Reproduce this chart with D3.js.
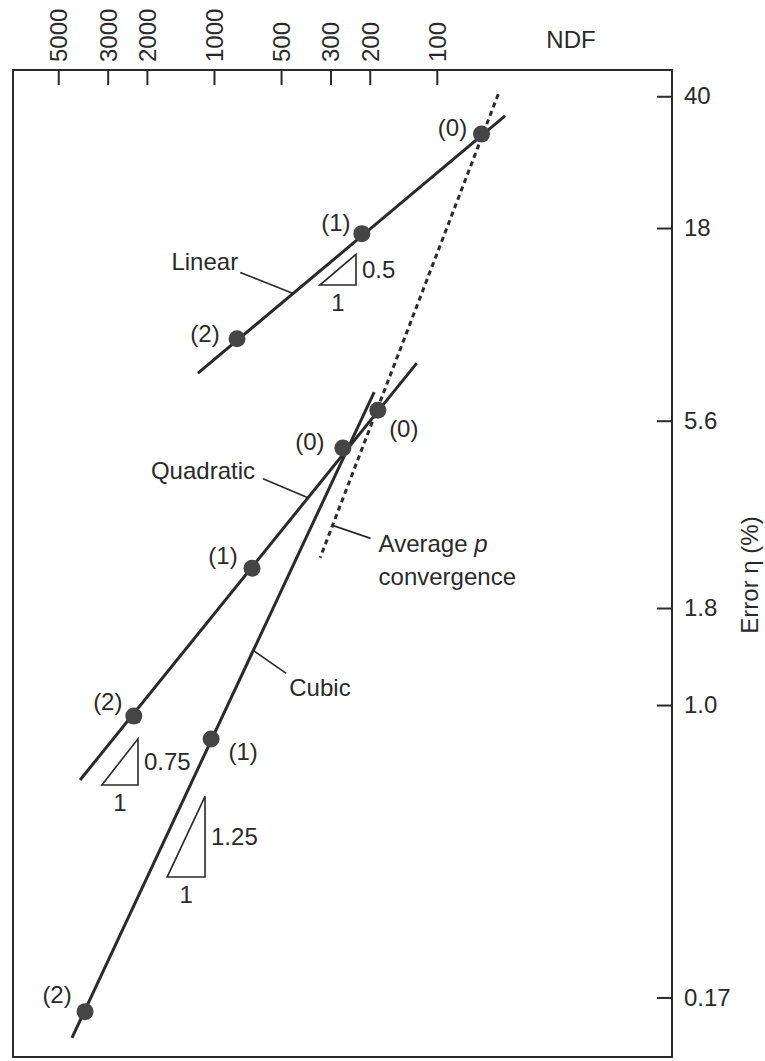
<!DOCTYPE html>
<html><head><meta charset="utf-8">
<script src="https://cdn.jsdelivr.net/npm/d3@7/dist/d3.min.js"></script>
<style>
html,body{margin:0;padding:0;background:#fff;}
svg{display:block;font-family:"Liberation Sans",Arial,Helvetica,sans-serif;}
</style></head><body>
<svg id="chart" width="765" height="1061"></svg>
<script>
// ---------------- data ----------------
const ndfTicks = [5000, 3000, 2000, 1000, 500, 300, 200, 100];
const errorTicks = [40, 18, 5.6, 1.8, 1.0, 0.17];
const errorTickLabels = ["40", "18", "5.6", "1.8", "1.0", "0.17"];
const refinementLabels = ["(0)", "(1)", "(2)"];
const seriesNames = ["Linear", "Quadratic", "Cubic"];

const linearNDF = [63, 217, 788];
const linearError = [31.8, 17.4, 9.2];
const quadraticNDF = [184, 675, 2290];
const quadraticError = [5.97, 2.29, 0.935];
const cubicNDF = [264, 1030, 3790];
const cubicError = [4.75, 0.814, 0.156];

// fitted line extents [low NDF end, high NDF end]
const linearLineNDF = [49.4, 1180];
const linearLineError = [35.5, 7.47];
const quadraticLineNDF = [123, 3990];
const quadraticLineError = [7.94, 0.635];
const cubicLineNDF = [191, 4340];
const cubicLineError = [6.66, 0.133];
const averageLineNDF = [53, 334];
const averageLineError = [40.5, 2.44];

const slopeValues = [0.5, 0.75, 1.25];
const slopeLabels = ["0.5", "0.75", "1.25"];

// ---------------- layout ----------------
const frame = {l: 13, t: 70, r: 672, b: 1057};
const fs = 24;
const ink = "#2a2a2a";
const svg = d3.select("#chart");

const x = d3.scaleLog().domain([7980, 8.8]).range([frame.l, frame.r]);
const y = d3.scaleLog().domain([46.9, 0.1185]).range([frame.t, frame.b]);

svg.append("rect").attr("width", 765).attr("height", 1061).attr("fill", "#fff");

// frame
svg.append("rect")
  .attr("x", frame.l).attr("y", frame.t)
  .attr("width", frame.r - frame.l).attr("height", frame.b - frame.t)
  .attr("fill", "none").attr("stroke", ink).attr("stroke-width", 2);

// top axis (NDF)
const gx = svg.append("g").attr("transform", `translate(0,${frame.t})`)
  .call(d3.axisTop(x).tickValues(ndfTicks).tickFormat(d3.format("d"))
        .tickSizeInner(-15).tickSizeOuter(0));
gx.select(".domain").remove();
gx.selectAll(".tick line").attr("stroke", ink).attr("stroke-width", 2);
gx.selectAll(".tick text")
  .attr("transform", "rotate(-90)")
  .attr("x", 8).attr("y", 0).attr("dy", "0.35em")
  .attr("text-anchor", "start")
  .attr("fill", ink).style("font-size", fs + "px").style("font-family", "inherit");

svg.append("text").attr("x", 571).attr("y", 40).attr("dy", "0.35em")
  .attr("text-anchor", "middle").attr("fill", ink).style("font-size", fs + "px")
  .text("NDF");

// right axis (error)
const gy = svg.append("g").attr("transform", `translate(${frame.r},0)`)
  .call(d3.axisRight(y).tickValues(errorTicks).tickFormat((d, i) => errorTickLabels[i])
        .tickSizeInner(-15).tickSizeOuter(0).tickPadding(12));
gy.select(".domain").remove();
gy.selectAll(".tick line").attr("stroke", ink).attr("stroke-width", 2);
gy.selectAll(".tick text").attr("fill", ink)
  .style("font-size", fs + "px").style("font-family", "inherit");

svg.append("text")
  .attr("transform", `translate(750,575) rotate(-90)`)
  .attr("text-anchor", "middle").attr("dy", "0.35em")
  .attr("fill", ink).style("font-size", fs + "px")
  .text("Error η (%)");

// ---------------- series ----------------
const line = d3.line().x(d => x(d[0])).y(d => y(d[1]));
const zip = (a, b) => a.map((v, i) => [v, b[i]]);

const series = [
  {name: seriesNames[0], pts: zip(linearNDF, linearError), ext: zip(linearLineNDF, linearLineError),
   lab: [[-29, -7], [-26, -11], [-32, -5]], leader: {t: 0.69, d: [-53, -21]},
   textPos: {dx: -2, dy: -11, anchor: "end"},
   tri: {n: 230.5, e: 12.74, run: 0.162}, slope: slopeValues[0], slopeLabel: slopeLabels[0]},
  {name: seriesNames[1], pts: zip(quadraticNDF, quadraticError), ext: zip(quadraticLineNDF, quadraticLineError),
   lab: [[26, 18], [-29, -13], [-26, -15]], leader: {t: 0.323, d: [-45, -19]},
   textPos: {dx: -8, dy: -8, anchor: "end"},
   tri: {n: 2193, e: 0.616, run: 0.162}, slope: slopeValues[1], slopeLabel: slopeLabels[1]},
  {name: seriesNames[2], pts: zip(cubicNDF, cubicError), ext: zip(cubicLineNDF, cubicLineError),
   lab: [[-33, -6], [32, 13], [-28, -17]], leader: {t: 0.4, d: [33, 23]},
   textPos: {dx: 3, dy: 14, anchor: "start"},
   tri: {n: 1097, e: 0.3526, run: 0.17}, slope: slopeValues[2], slopeLabel: slopeLabels[2]}
];

// dashed average line
const avgExt = zip(averageLineNDF, averageLineError);
svg.append("path").attr("d", line(avgExt)).attr("fill", "none")
  .attr("stroke", ink).attr("stroke-width", 3).attr("stroke-dasharray", "5,4");

series.forEach(s => {
  svg.append("path").attr("d", line(s.ext)).attr("fill", "none")
    .attr("stroke", ink).attr("stroke-width", 3);
});

function pointOn(ext, t) {
  const x0 = x(ext[0][0]), y0 = y(ext[0][1]), x1 = x(ext[1][0]), y1 = y(ext[1][1]);
  return [x0 + (x1 - x0) * t, y0 + (y1 - y0) * t];
}

series.forEach(s => {
  // dots
  svg.selectAll(null).data(s.pts).join("circle")
    .attr("cx", d => x(d[0])).attr("cy", d => y(d[1])).attr("r", 8.5)
    .attr("fill", "#454545");
  // refinement labels
  svg.selectAll(null).data(s.pts).join("text")
    .attr("x", (d, i) => x(d[0]) + s.lab[i][0])
    .attr("y", (d, i) => y(d[1]) + s.lab[i][1])
    .attr("dy", "0.35em").attr("text-anchor", "middle")
    .attr("fill", ink).style("font-size", fs + "px")
    .text((d, i) => refinementLabels[i]);
  // leader + name
  const a = pointOn(s.ext, s.leader.t);
  const b = [a[0] + s.leader.d[0], a[1] + s.leader.d[1]];
  svg.append("line").attr("x1", a[0]).attr("y1", a[1]).attr("x2", b[0]).attr("y2", b[1])
    .attr("stroke", ink).attr("stroke-width", 1.6);
  svg.append("text").attr("x", b[0] + s.textPos.dx).attr("y", b[1] + s.textPos.dy)
    .attr("dy", "0.35em").attr("text-anchor", s.textPos.anchor)
    .attr("fill", ink).style("font-size", fs + "px").text(s.name);
  // slope triangle
  const br = [x(s.tri.n), y(s.tri.e)];
  const bl = [x(s.tri.n * Math.pow(10, s.tri.run)), y(s.tri.e)];
  const tr = [x(s.tri.n), y(s.tri.e * Math.pow(10, s.tri.run * s.slope))];
  svg.append("path").attr("d", `M${bl[0]},${bl[1]}L${br[0]},${br[1]}L${tr[0]},${tr[1]}Z`)
    .attr("fill", "none").attr("stroke", ink).attr("stroke-width", 1.6);
  svg.append("text").attr("x", br[0] + 6).attr("y", (br[1] + tr[1]) / 2)
    .attr("dy", "0.35em").attr("fill", ink).style("font-size", fs + "px").text(s.slopeLabel);
  svg.append("text").attr("x", (bl[0] + br[0]) / 2).attr("y", br[1] + 18)
    .attr("dy", "0.35em").attr("text-anchor", "middle")
    .attr("fill", ink).style("font-size", fs + "px").text("1");
});

// average p convergence label
const aa = pointOn(avgExt, 0.93);
const ab = [aa[0] + 38, aa[1] + 13];
svg.append("line").attr("x1", aa[0]).attr("y1", aa[1]).attr("x2", ab[0]).attr("y2", ab[1])
  .attr("stroke", ink).attr("stroke-width", 1.6);
const avgText = svg.append("text").attr("x", ab[0] + 8).attr("y", ab[1] + 5)
  .attr("dy", "0.35em").attr("fill", ink).style("font-size", fs + "px");
avgText.append("tspan").text("Average ");
avgText.append("tspan").style("font-style", "italic").text("p");
svg.append("text").attr("x", ab[0] + 8).attr("y", ab[1] + 38)
  .attr("dy", "0.35em").attr("fill", ink).style("font-size", fs + "px").text("convergence");
</script>
</body></html>
